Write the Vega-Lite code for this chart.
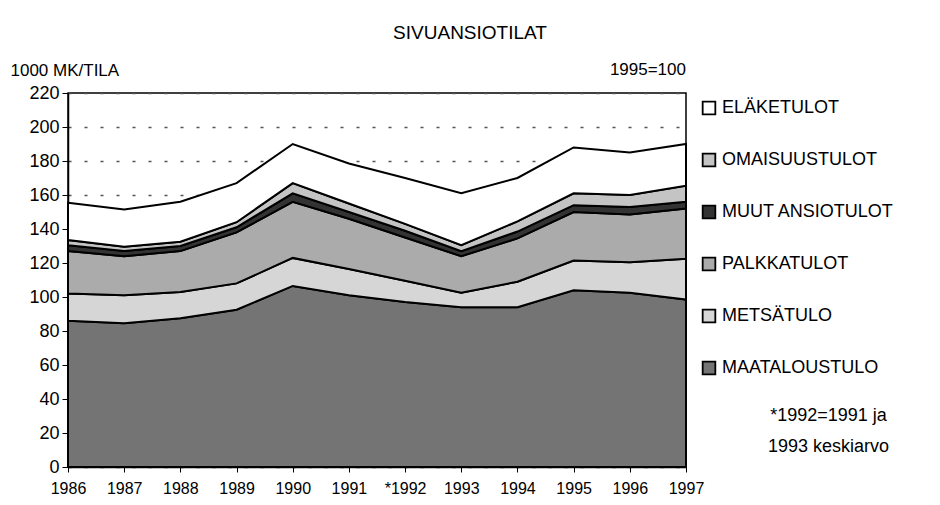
{
"$schema": "https://vega.github.io/schema/vega-lite/v6.json",
"width": 618, "height": 374,
"autosize": {"type": "none"},
"padding": {"left": 68, "top": 93, "right": 254, "bottom": 38},
"background": "white",
"config": {"font": "Liberation Sans", "view": {"stroke": "black", "strokeWidth": 1.5}},
"title": {"text": "SIVUANSIOTILAT", "fontSize": 19, "fontWeight": "normal", "frame": "group", "anchor": "middle", "dx": 93, "offset": 18, "color": "black"},
"resolve": {"axis": {"x": "independent", "y": "independent"}},
"data": {"values": [
{"year":1986,"series":"MAATALOUSTULO","k":1,"value":86},
{"year":1987,"series":"MAATALOUSTULO","k":1,"value":84.5},
{"year":1988,"series":"MAATALOUSTULO","k":1,"value":87.5},
{"year":1989,"series":"MAATALOUSTULO","k":1,"value":92.5},
{"year":1990,"series":"MAATALOUSTULO","k":1,"value":106.5},
{"year":1991,"series":"MAATALOUSTULO","k":1,"value":101},
{"year":1992,"series":"MAATALOUSTULO","k":1,"value":97},
{"year":1993,"series":"MAATALOUSTULO","k":1,"value":94},
{"year":1994,"series":"MAATALOUSTULO","k":1,"value":94},
{"year":1995,"series":"MAATALOUSTULO","k":1,"value":104},
{"year":1996,"series":"MAATALOUSTULO","k":1,"value":102.5},
{"year":1997,"series":"MAATALOUSTULO","k":1,"value":98.5},
{"year":1986,"series":"METSÄTULO","k":2,"value":16},
{"year":1987,"series":"METSÄTULO","k":2,"value":16.5},
{"year":1988,"series":"METSÄTULO","k":2,"value":15.5},
{"year":1989,"series":"METSÄTULO","k":2,"value":15.5},
{"year":1990,"series":"METSÄTULO","k":2,"value":16.5},
{"year":1991,"series":"METSÄTULO","k":2,"value":15.5},
{"year":1992,"series":"METSÄTULO","k":2,"value":12.5},
{"year":1993,"series":"METSÄTULO","k":2,"value":8.5},
{"year":1994,"series":"METSÄTULO","k":2,"value":15},
{"year":1995,"series":"METSÄTULO","k":2,"value":17.5},
{"year":1996,"series":"METSÄTULO","k":2,"value":18},
{"year":1997,"series":"METSÄTULO","k":2,"value":24},
{"year":1986,"series":"PALKKATULOT","k":3,"value":25},
{"year":1987,"series":"PALKKATULOT","k":3,"value":23},
{"year":1988,"series":"PALKKATULOT","k":3,"value":24},
{"year":1989,"series":"PALKKATULOT","k":3,"value":30},
{"year":1990,"series":"PALKKATULOT","k":3,"value":33},
{"year":1991,"series":"PALKKATULOT","k":3,"value":29.5},
{"year":1992,"series":"PALKKATULOT","k":3,"value":25.5},
{"year":1993,"series":"PALKKATULOT","k":3,"value":21.5},
{"year":1994,"series":"PALKKATULOT","k":3,"value":25.5},
{"year":1995,"series":"PALKKATULOT","k":3,"value":28.5},
{"year":1996,"series":"PALKKATULOT","k":3,"value":28},
{"year":1997,"series":"PALKKATULOT","k":3,"value":29.5},
{"year":1986,"series":"MUUT  ANSIOTULOT","k":4,"value":3.5},
{"year":1987,"series":"MUUT  ANSIOTULOT","k":4,"value":3},
{"year":1988,"series":"MUUT  ANSIOTULOT","k":4,"value":3},
{"year":1989,"series":"MUUT  ANSIOTULOT","k":4,"value":3},
{"year":1990,"series":"MUUT  ANSIOTULOT","k":4,"value":5},
{"year":1991,"series":"MUUT  ANSIOTULOT","k":4,"value":4},
{"year":1992,"series":"MUUT  ANSIOTULOT","k":4,"value":4},
{"year":1993,"series":"MUUT  ANSIOTULOT","k":4,"value":3},
{"year":1994,"series":"MUUT  ANSIOTULOT","k":4,"value":4},
{"year":1995,"series":"MUUT  ANSIOTULOT","k":4,"value":4},
{"year":1996,"series":"MUUT  ANSIOTULOT","k":4,"value":4.5},
{"year":1997,"series":"MUUT  ANSIOTULOT","k":4,"value":4},
{"year":1986,"series":"OMAISUUSTULOT","k":5,"value":3},
{"year":1987,"series":"OMAISUUSTULOT","k":5,"value":2.5},
{"year":1988,"series":"OMAISUUSTULOT","k":5,"value":2.5},
{"year":1989,"series":"OMAISUUSTULOT","k":5,"value":3},
{"year":1990,"series":"OMAISUUSTULOT","k":5,"value":6},
{"year":1991,"series":"OMAISUUSTULOT","k":5,"value":5},
{"year":1992,"series":"OMAISUUSTULOT","k":5,"value":4},
{"year":1993,"series":"OMAISUUSTULOT","k":5,"value":3.5},
{"year":1994,"series":"OMAISUUSTULOT","k":5,"value":6},
{"year":1995,"series":"OMAISUUSTULOT","k":5,"value":7},
{"year":1996,"series":"OMAISUUSTULOT","k":5,"value":7},
{"year":1997,"series":"OMAISUUSTULOT","k":5,"value":9.5},
{"year":1986,"series":"ELÄKETULOT","k":6,"value":22},
{"year":1987,"series":"ELÄKETULOT","k":6,"value":22},
{"year":1988,"series":"ELÄKETULOT","k":6,"value":23.5},
{"year":1989,"series":"ELÄKETULOT","k":6,"value":23},
{"year":1990,"series":"ELÄKETULOT","k":6,"value":23},
{"year":1991,"series":"ELÄKETULOT","k":6,"value":23.5},
{"year":1992,"series":"ELÄKETULOT","k":6,"value":27},
{"year":1993,"series":"ELÄKETULOT","k":6,"value":30.5},
{"year":1994,"series":"ELÄKETULOT","k":6,"value":25.5},
{"year":1995,"series":"ELÄKETULOT","k":6,"value":27},
{"year":1996,"series":"ELÄKETULOT","k":6,"value":25},
{"year":1997,"series":"ELÄKETULOT","k":6,"value":24.5}
]},
"layer": [
{"mark": {"type": "area", "stroke": "black", "strokeWidth": 2, "strokeJoin": "miter", "opacity": 1},
 "encoding": {
  "x": {"field": "year", "type": "quantitative",
        "scale": {"domain": [1986, 1997], "nice": false, "zero": false},
        "axis": {"values": [1986,1987,1988,1989,1990,1991,1992,1993,1994,1995,1996,1997],
                 "format": "d", "labelExpr": "datum.value == 1992 ? '*1992' : datum.label",
                 "labelFontSize": 16, "labelColor": "black", "tickSize": 5, "tickColor": "black",
                 "domainColor": "black", "domainWidth": 1.5, "grid": false, "labelPadding": 8, "labelFlush": false,
                 "labelOverlap": false,
                 "title": ["*1992=1991 ja", "1993 keskiarvo"], "titleFontSize": 18, "titleFontWeight": "normal",
                 "titleColor": "black", "titleX": 760, "titleY": -52, "titleBaseline": "middle", "titleAlign": "center",
                 "titleLineHeight": 31}},
  "y": {"field": "value", "type": "quantitative", "stack": "zero",
        "scale": {"domain": [0, 220], "nice": false},
        "axis": {"values": [0,20,40,60,80,100,120,140,160,180,200,220],
                 "labelFontSize": 18, "labelColor": "black", "tickSize": 6, "tickColor": "black",
                 "domainColor": "black", "domainWidth": 1.5, "labelPadding": 3, "labelOverlap": false,
                 "grid": true, "gridColor": "#555555", "gridDash": [3, 13], "gridWidth": 1.3,
                 "title": "1000 MK/TILA", "titleAngle": 0, "titleAlign": "left", "titleBaseline": "middle",
                 "titleX": -58, "titleY": -23, "titleFontSize": 17, "titleFontWeight": "normal", "titleColor": "black"}},
  "color": {"field": "series", "type": "nominal",
            "scale": {"domain": ["ELÄKETULOT", "OMAISUUSTULOT", "MUUT  ANSIOTULOT", "PALKKATULOT", "METSÄTULO", "MAATALOUSTULO"],
                      "range": ["#ffffff", "#c4c4c4", "#333333", "#ababab", "#d6d6d6", "#747474"]},
            "legend": {"orient": "none", "legendX": 632, "legendY": 6, "title": null,
                       "symbolType": "square", "symbolSize": 160, "symbolStrokeColor": "black", "symbolStrokeWidth": 1.8,
                       "symbolOpacity": 1, "labelFontSize": 18, "labelColor": "black", "labelOffset": 4,
                       "rowPadding": 32, "labelLimit": 300}},
  "order": {"field": "k", "type": "quantitative"}
 }},
{"data": {"values": [{"label": "1995=100"}]},
 "mark": {"type": "text", "align": "right", "baseline": "middle", "fontSize": 17, "dy": -23, "color": "black"},
 "encoding": {"x": {"datum": 1997, "type": "quantitative", "axis": null}, "y": {"datum": 220, "type": "quantitative", "axis": null}, "text": {"field": "label"}}}
]
}
